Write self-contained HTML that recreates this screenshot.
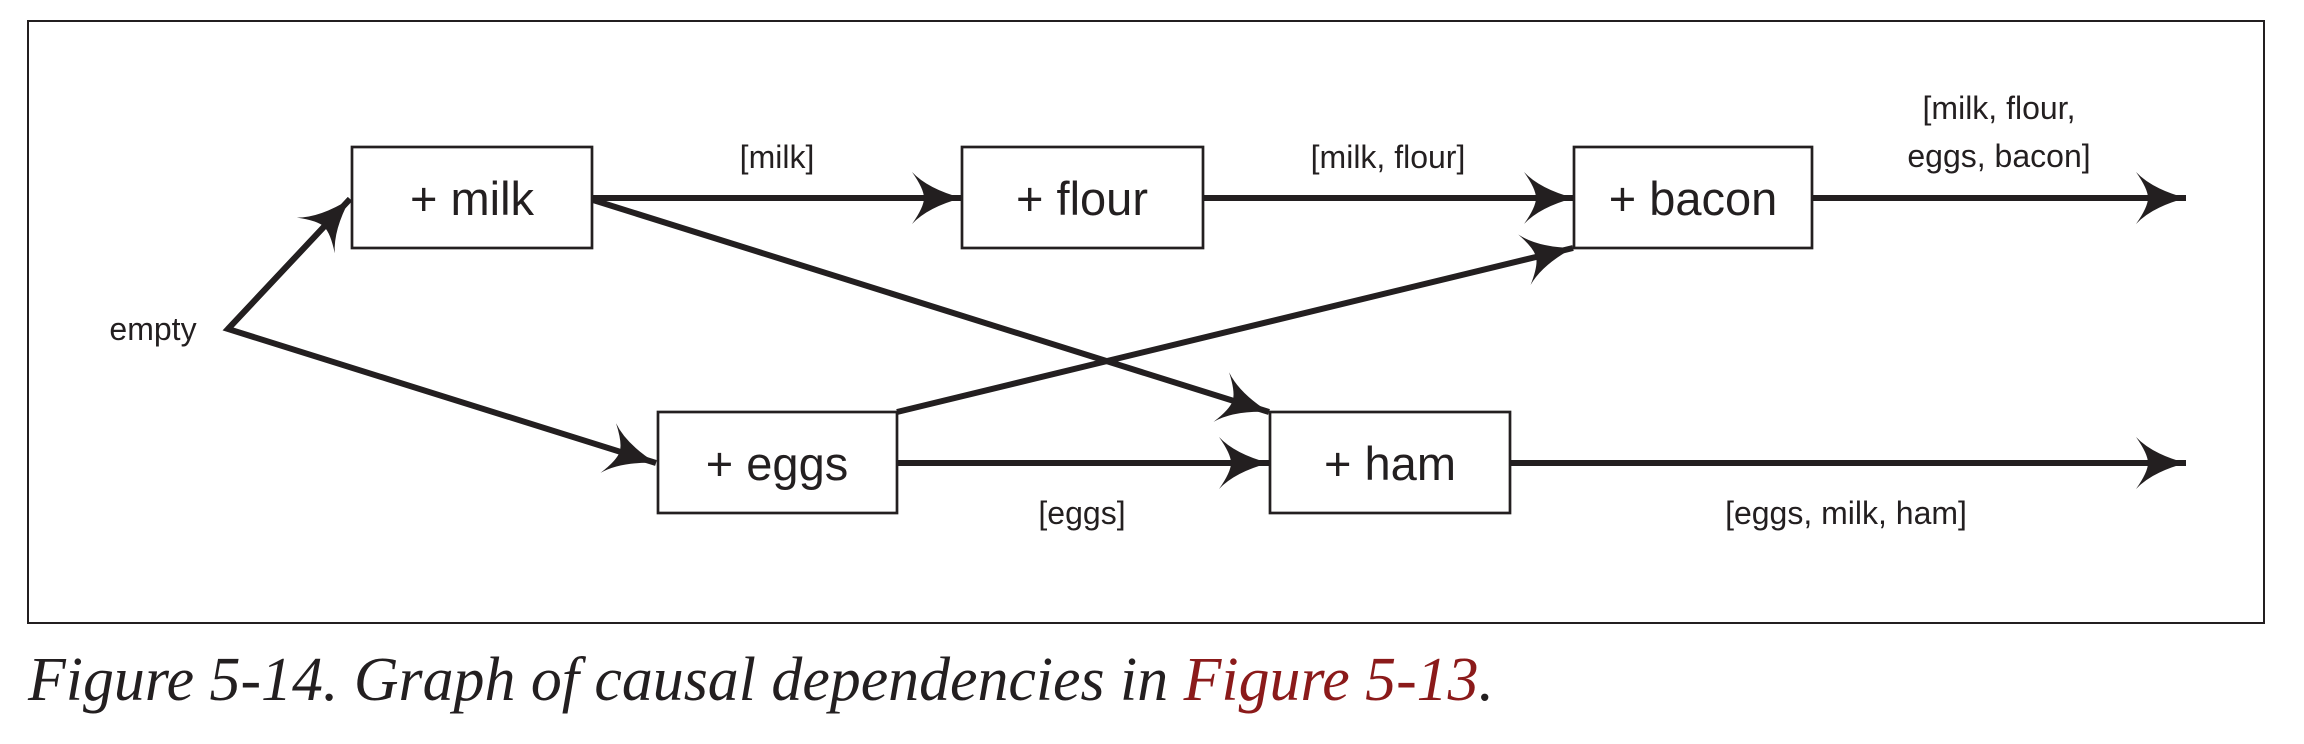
<!DOCTYPE html>
<html><head><meta charset="utf-8"><style>
html,body{margin:0;padding:0;background:#fff;}
svg{display:block;}
</style></head><body>
<svg width="2304" height="744" viewBox="0 0 2304 744" xmlns="http://www.w3.org/2000/svg">
<defs>
<marker id="a" markerUnits="userSpaceOnUse" markerWidth="70" markerHeight="70" viewBox="-60 -35 70 70" refX="0" refY="0" orient="auto">
<path d="M0,0 Q-34,-9 -50,-26 Q-38,-9 -38,0 Q-38,9 -50,26 Q-34,9 0,0 Z" fill="#231f20"/>
</marker>
</defs>
<rect x="28" y="21" width="2236" height="602" fill="none" stroke="#231f20" stroke-width="2"/>
<g stroke="#231f20" stroke-width="6" fill="none" stroke-linecap="butt">
<polyline points="350,199 228,329 656,463" stroke-linejoin="miter" marker-end="url(#a)"/>
<path d="M228,329 L350,199" marker-end="url(#a)"/>
<path d="M592,198 L962,198" marker-end="url(#a)"/>
<path d="M1203,198 L1574,198" marker-end="url(#a)"/>
<path d="M1812,198 L2186,198" marker-end="url(#a)"/>
<path d="M593,200 L1269,412" marker-end="url(#a)"/>
<path d="M897,412 L1573,248" marker-end="url(#a)"/>
<path d="M897,463 L1269,463" marker-end="url(#a)"/>
<path d="M1510,463 L2186,463" marker-end="url(#a)"/>
</g>
<g fill="#fff" stroke="#231f20" stroke-width="2.7">
<rect x="352" y="147" width="240" height="101"/>
<rect x="962" y="147" width="241" height="101"/>
<rect x="1574" y="147" width="238" height="101"/>
<rect x="658" y="412" width="239" height="101"/>
<rect x="1270" y="412" width="240" height="101"/>
</g>
<g font-family="Liberation Sans, sans-serif" fill="#231f20" text-anchor="middle">
<g font-size="47">
<text x="472" y="215">+ milk</text>
<text x="1082" y="215">+ flour</text>
<text x="1693" y="215">+ bacon</text>
<text x="777" y="480">+ eggs</text>
<text x="1390" y="480">+ ham</text>
</g>
<g font-size="32">
<text x="153" y="340">empty</text>
<text x="777" y="168">[milk]</text>
<text x="1388" y="168">[milk, flour]</text>
<text x="1999" y="119">[milk, flour,</text>
<text x="1999" y="167">eggs, bacon]</text>
<text x="1082" y="524">[eggs]</text>
<text x="1846" y="524">[eggs, milk, ham]</text>
</g>
</g>
<text x="28" y="700" font-family="Liberation Serif, serif" font-style="italic" font-size="62" fill="#231f20" textLength="1466" lengthAdjust="spacingAndGlyphs">Figure 5-14. Graph of causal dependencies in <tspan fill="#8b1a1a">Figure 5-13</tspan>.</text>
</svg>
</body></html>
